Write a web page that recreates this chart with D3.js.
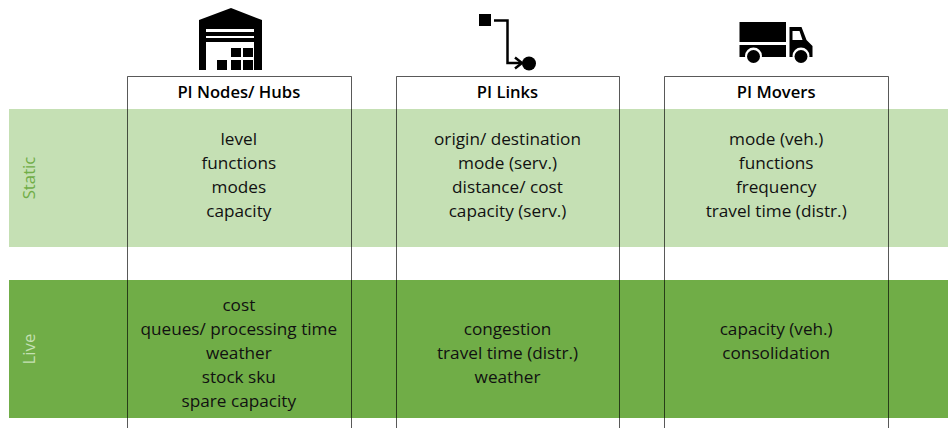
<!DOCTYPE html>
<html>
<head>
<meta charset="utf-8">
<script src="https://cdnjs.cloudflare.com/ajax/libs/d3/7.8.5/d3.min.js"></script>
<style>
    html, body { margin: 0; padding: 0; background: #fff; }
    svg { display: block; }
    text { font-family: "Open Sans", "Noto Sans", sans-serif; }
</style>
</head>
<body>
<svg id="chart"></svg>
<script>
const columns = ["PI Nodes/ Hubs", "PI Links", "PI Movers"];
const bands = ["Static", "Live"];

const staticNodes = ["level", "functions", "modes", "capacity"];
const staticLinks = ["origin/ destination", "mode (serv.)", "distance/ cost", "capacity (serv.)"];
const staticMovers = ["mode (veh.)", "functions", "frequency", "travel time (distr.)"];

const liveNodes = ["cost", "queues/ processing time", "weather", "stock sku", "spare capacity"];
const liveLinks = ["", "congestion", "travel time (distr.)", "weather", ""];
const liveMovers = ["", "capacity (veh.)", "consolidation", "", ""];

let width = 948,
    height = 428,
    staticColor = "#c5e0b4",
    liveColor = "#70ad47";

let svg = d3.select("#chart").attr("width", width).attr("height", height);

// column boxes: x position of the left edge
let xCol = d3.scaleBand().domain(columns).range([127, 888]).paddingInner(0.1676).paddingOuter(0);
// bands
let yBand = d3.scaleBand().domain(bands).range([109, 418]).paddingInner(0.193).paddingOuter(0);
// text rows inside the bands
let yStatic = d3.scalePoint().domain(d3.range(4)).range([139.4, 210.8]);
let yLive = d3.scalePoint().domain(d3.range(5)).range([304.8, 401]);

// bands
svg.append("g").selectAll("rect")
    .data(bands)
    .enter().append("rect")
    .attr("x", 9)
    .attr("y", function (d) { return yBand(d); })
    .attr("width", width - 9)
    .attr("height", yBand.bandwidth())
    .attr("fill", function (d) { return d == "Static" ? staticColor : liveColor; });

// column frames, drawn over the bands so they show through
let boxTop = 76.5;
svg.append("g").selectAll("path")
    .data(columns)
    .enter().append("path")
    .attr("d", function (d) {
        let x0 = Math.round(xCol(d)) + 0.5, x1 = Math.round(xCol(d) + xCol.bandwidth()) + 0.5;
        return "M" + x0 + "," + height + "V" + boxTop + "H" + x1 + "V" + height;
    })
    .attr("fill", "none")
    .attr("stroke", "#000")
    .attr("stroke-opacity", 0.65)
    .attr("stroke-width", 1);

// band labels
svg.append("g").selectAll("text")
    .data(bands)
    .enter().append("text")
    .attr("transform", function (d) { return "translate(35," + (yBand(d) + yBand.bandwidth() / 2) + ") rotate(-90)"; })
    .attr("text-anchor", "middle")
    .attr("font-size", 16.8)
    .attr("fill", function (d) { return d == "Static" ? "#70ad47" : "#c5e0b4"; })
    .text(function (d) { return d; });

// headers
svg.append("g").selectAll("text")
    .data(columns)
    .enter().append("text")
    .attr("x", function (d) { return xCol(d) + xCol.bandwidth() / 2; })
    .attr("y", 98)
    .attr("text-anchor", "middle")
    .attr("font-size", 16.6)
    .attr("font-weight", 600)
    .attr("fill", "#000")
    .text(function (d) { return d; });

function drawRows(rows, yScale) {
    rows.forEach(function (list, i) {
        svg.append("g").selectAll("text")
            .data(list)
            .enter().append("text")
            .attr("x", xCol(columns[i]) + xCol.bandwidth() / 2)
            .attr("y", function (d, j) { return yScale(j); })
            .attr("dy", "0.35em")
            .attr("text-anchor", "middle")
            .attr("font-size", 17.2)
            .attr("fill", "#111")
            .text(function (d) { return d; });
    });
}
drawRows([staticNodes, staticLinks, staticMovers], yStatic);
drawRows([liveNodes, liveLinks, liveMovers], yLive);

// icons
let icons = svg.append("g").attr("fill", "#000");

// warehouse
let wh = icons.append("g").attr("transform", "translate(199,8)");
wh.append("path").attr("d", "M0,12 L32,0 L63,12 V62 H55 V21 H7 V62 H0 Z");
wh.append("rect").attr("x", 7).attr("y", 24).attr("width", 48).attr("height", 4);
wh.append("rect").attr("x", 7).attr("y", 30).attr("width", 48).attr("height", 4);
[[32, 40], [44, 40], [18, 52], [32, 52], [44, 52]].forEach(function (p) {
    wh.append("rect").attr("x", p[0]).attr("y", p[1]).attr("width", 10).attr("height", p[1] == 40 ? 9 : 10);
});

// link
let lk = icons.append("g").attr("transform", "translate(479,14)");
lk.append("rect").attr("width", 12).attr("height", 12);
lk.append("path").attr("d", "M15,6.5 H28.5 V49 H42").attr("fill", "none").attr("stroke", "#000").attr("stroke-width", 2.5);
lk.append("path").attr("d", "M36,43.5 L43,49 L36,54.5").attr("fill", "none").attr("stroke", "#000").attr("stroke-width", 2.5);
lk.append("circle").attr("cx", 50).attr("cy", 49.5).attr("r", 7);

// truck
let tr = icons.append("g").attr("transform", "translate(739.5,22)");
tr.append("rect").attr("width", 46.5).attr("height", 20);
tr.append("rect").attr("y", 23).attr("width", 46.5).attr("height", 12);
tr.append("path").attr("fill-rule", "evenodd")
    .attr("d", "M50,5 H62 L67,18 L73,24 V35 H50 Z M53,9 V18 H63 L60,9 Z");
[[14], [61.5]].forEach(function (p) {
    tr.append("circle").attr("cx", p[0]).attr("cy", 34).attr("r", 8.5).attr("fill", "#fff");
    tr.append("circle").attr("cx", p[0]).attr("cy", 34.5).attr("r", 6.5);
});
</script>
</body>
</html>
